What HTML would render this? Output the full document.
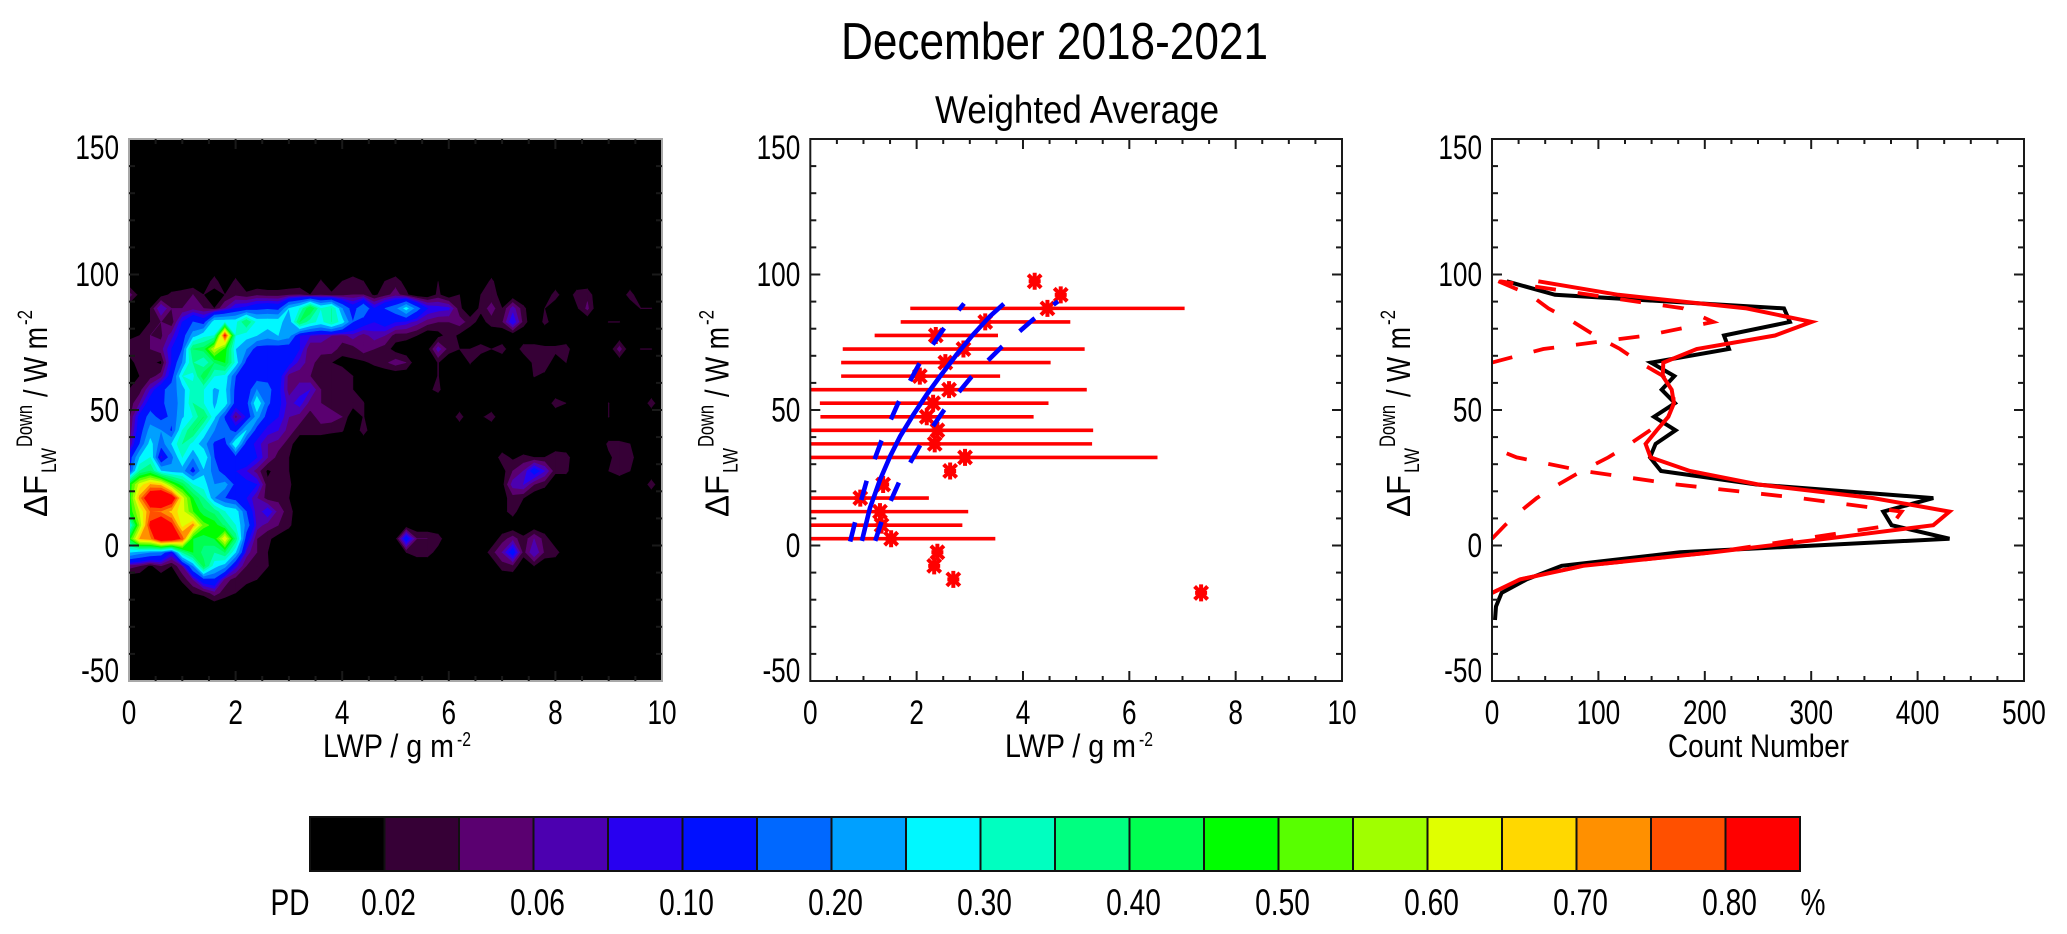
<!DOCTYPE html>
<html lang="en">
<head>
<meta charset="utf-8">
<title>December 2018-2021</title>
<style>
html,body{margin:0;padding:0;background:#fff;}
svg{display:block;}
text{font-family:"Liberation Sans",sans-serif;fill:#000;}
</style>
</head>
<body>
<svg id="fig" xmlns="http://www.w3.org/2000/svg" width="2067" height="934" viewBox="0 0 2067 934">
<rect x="0" y="0" width="2067" height="934" fill="#fff"/>
<text x="841" y="59" font-size="52" textLength="427" lengthAdjust="spacingAndGlyphs">December 2018-2021</text>
<text x="935" y="123" font-size="39" textLength="284" lengthAdjust="spacingAndGlyphs">Weighted Average</text>
<g id="p1"></g>
<g id="p2"></g>
<g id="p3"></g>
<g id="cb"></g>
</svg>
<script>
// ---- shared axes data
const yTicks = [-50, 0, 50, 100, 150];
const lwpTicks = [0, 2, 4, 6, 8, 10];
const countTicks = [0, 100, 200, 300, 400, 500];

// ---- colour bar
const pdLevels = [.02,.04,.06,.08,.10,.15,.20,.25,.30,.35,.40,.45,.50,.55,.60,.65,.70,.75,.80];
const pdColors = ['#000000','#360036','#5a0070','#4c00b0','#2800f0','#0010ff','#0068ff','#00a0ff','#00f8ff','#00ffc0','#00ff80','#00ff50','#00ff00','#58ff00','#a0ff00','#e0ff00','#ffd800','#ff9000','#ff5000','#ff0000'];
const pdLabels = ['0.02','0.06','0.10','0.20','0.30','0.40','0.50','0.60','0.70','0.80'];

// ---- heatmap (PD %): columns LWP = 0, 0.2 ... 10; rows listed by pdRowY
const pdColStep = 0.2;
const pdRowY = [-22.5,-17.5,-12.5,-7.5,-2.5,2.5,7.5,12.5,17.5,22.5,27.5,32.5,37.5,42.5,47.5,52.5,57.5,62.5,67.5,72.5,77.5,82.5,87.5,92.5,97.5,102.5];
const pdRows = [
[],
[0,0,0,0,0, 0,.02,.025,.05,.03, .02],
[0,0,0,0,0, .025,.06,.13,.14,.05, .03,.03,.02],
[.05,.04,.015,.04,.02, .06,.2,.42,.27,.22, .09,.04,.035,.022,0, 0,0,0,0,0, 0,0,0,0,0, 0,0,0,0,0, 0,0,0,0,0, .03,.035,0,.02,0],
[.25,.22,.2,.18,.1, .35,.45,.38,.35,.4, .25,.07,.04,.02,0, 0,0,0,0,0, 0,0,0,0,0, 0,.02,.03,.03,.01, 0,0,0,0,.03, .06,.12,.03,.08,.035, .03,0,0,0,0],
[.45,.7,.73,.9,.88, .78,.45,.42,.45,.65, .38,.12,.04,.025,.01, 0,0,0,0,0, 0,0,0,0,0, .01,.12,.04,.04,.03, 0,0,0,0,0, .03,.05,.025,.06,.03, 0,0,0,0,.02],
[.25,.55,.82,.9,.82, .62,.72,.52,.48,.38, .3,.18,.07,.05,.04, .025],
[.45,.6,.75,.74,.68, .62,.5,.42,.38,.3, .28,.15,.06,.1,.05, .03,0,0,0,0, 0,0,0,0,0, 0,0,0,0,0, 0,0,0,0,0, .01,.03],
[.45,.72,.9,.95,.88, .62,.45,.35,.2,.15, .12,.1,.06,.03,.035, .02,0,0,0,0, 0,0,0,0,0, 0,0,0,0,0, 0,0,0,0,0, .01,.03,.02],
[.45,.62,.7,.68,.52, .42,.3,.27,.2,.22, .13,.11,.1,.025,.03, .025,0,0,0,0, 0,0,0,0,0, 0,0,0,0,0, 0,0,0,0,0, .01,.07,.08,.04,.025, 0,0,0,0,0, 0,0,0,0,.03],
[.12,.35,.4,.25,.22, .22,.12,.24,.18,.11, .1,.08,.05,.015,.03, .02,0,0,0,0, 0,0,0,0,0, 0,0,0,0,0, 0,0,0,0,0, .01,.04,.06,.12,.08, .025,.025,0,0,0, .02,.03,.02],
[.11,.25,.3,.08,.18, .3,.2,.3,.15,.11, .12,.14,.1,.06,.03, .02,0,0,0,0, 0,0,0,0,0, 0,0,0,0,0, 0,0,0,0,0, .03,.015,.025,.02,.02, .035,.03,0,0,0, .015,.03,.03],
[.05,.15,.27,.17,.25, .35,.28,.22,.14,.12, .3,.12,.09,.06,.05, .03,0,0,0,0, 0,0,0,0,0, 0,0,0,0,0, 0,0,0,0,0, 0,0,0,0,0, 0,0,0,0,0, .025,.025,.02],
[.04,.12,.22,.2,.14, .3,.4,.28,.2,.18, .12,.25,.12,.09,.08, .05,.03,.03,.03,.025, .022,0,.03],
[.03,.11,.17,.13,.16, .24,.3,.4,.26,.14, .05,.1,.22,.12,.1, .06,.05,.03,.05,.05, .04,0,.021,0,0, 0,0,0,0,0, 0,.03,0,.015,.03, 0,0,0,0,0, 0,0,0,0,0, .0205],
[.025,.06,.12,.14,.17, .22,.35,.3,.24,.28, .12,.12,.3,.16,.11, .07,.09,.05,.04,.03, .03,.03,.021,0,0, 0,0,0,0,0, 0,0,0,0,0, 0,0,0,0,0, .03,.02,0,0,0, .0205,0,0,0,.03],
[.02,.03,.08,.13,.18, .22,.33,.3,.24,.26, .13,.11,.2,.17,.11, .05,.07,.08,.04,.03, .02,.02,.01,0,0, 0,0,0,.015,.025],
[.01,.02,.03,.05,.12, .3,.28,.44,.3,.28, .15,.12,.12,.13,.12, .05,.05,.04,.03,.03, .04,.02,0,0,0, 0,0,0,0,.021, 0,0,0,0,0, 0,0,0,.021,.015],
[.01,.03,.025,.015,.1, .2,.35,.3,.4,.45, .28,.13,.1,.11,.12, .11,.07,.05,.025,.02, .01,.015,.015,.025,.035, .05,.04,0,0,.021, 0,0,.022,0,0, 0,0,0,.025,.03, .01,.02],
[.03,.035,.04,.05,.1, .15,.4,.42,.6,.48, .25,.2,.12,.12,.11, .11,.1,.04,.05,.05, .03,.03,.05,.04,.03, .01,0,0,.01,.07, .03,.02,.02,.03,.02, .03,0,.03,.03,.025, .025,.03,0,0,0, 0,.05,0,.0205,.0205],
[.015,.02,.04,.035,.07, .12,.22,.28,.3,.82, .3,.27,.25,.22,.25, .22,.1,.08,.07,.06, .05,.07,.05,.07,.06, .03,.03,.02,0,.01, .03,.015],
[0,.01,.02,.04,.025, .1,.15,.12,.28,.28, .28,.4,.28,.28,.28, .2,.4,.32,.28,.35, .27,.15,.12,.1,.12, .1,.09,.07,.05,.04, .04,.05,.03,.01,.03, .035,.1,.03,0,.025, .01,0,0,0,0, .0205,.0205],
[0,0,.02,.08,.04, .04,.05,.04,.02,.06, .1,.11,.13,.14,.13, .25,.3,.45,.3,.35, .2,.12,.2,.1,.15, .18,.27,.17,.1,.09, .085,.025,0,.025,.05, .02,.07,.025,0,.02, 0,0,.015,.045,0, 0,0,0,.0205,.0205],
[.05,.01,0,.01,.025, .03,.04,.02,.01,.02, .035,.025,.035,.03,.03, .035,.04,.02,.035,.025, .03,.04,.04,.015,.03, .05,.025,0,0,.025, 0,.02,0,.02,.025, .015,0,0,0,0, .03,0,.03,.035,0, 0,0,.03],
[0,0,0,0,0, 0,0,0,.03,0, .025,0,0,0,0, 0,0,0,.022,0, .02,.03,.02,0,.02, .03,.01,0,0,.02, 0,0,0,0,.025],
[]
];

// ---- middle panel: binned means, spreads and fits
const starX = [7.35,2.69,2.33,2.39,1.52,1.34,1.31,.94,1.37,2.63,2.91,2.34,2.39,2.19,2.31,2.61,2.06,2.54,2.88,2.36,3.29,4.46,4.71,4.22];
const starY = [-17.5,-12.5,-7.5,-2.5,2.5,7.5,12.5,17.5,22.5,27.5,32.5,37.5,42.5,47.5,52.5,57.5,62.5,67.5,72.5,77.5,82.5,87.5,92.5,97.5];
const spreadY = [2.5,7.5,12.5,17.5,32.5,37.5,42.5,47.5,52.5,57.5,62.5,67.5,72.5,77.5,82.5,87.5];
const spreadLow = [0,0,0,0,0,0,0,.19,.18,0,.58,.58,.61,1.21,1.70,1.88];
const spreadHigh = [3.48,2.86,2.97,2.23,6.53,5.30,5.32,4.20,4.48,5.20,3.57,4.52,5.16,3.53,4.89,7.04];
const fitX = [.97,1.12,1.31,1.50,1.69,1.94,2.19,2.44,2.75,3.06,3.38,3.64];
const fitY = [1.7,13.8,24.2,32.9,40.3,48.3,55.7,62.4,70.4,77.8,84.6,89.2];
const fitLowX = [.75,.84,1.06,1.34,1.66,2.04,2.50,2.89];
const fitLowY = [1.45,8.5,23.9,38.7,52.9,66.7,79.7,89.3];
const fitHighX = [1.22,1.34,1.67,2.07,2.52,3.03,3.60,4.19,4.66];
const fitHighY = [1.7,8.8,23.4,37.2,50.1,62.2,73.3,83.4,90.1];

// ---- right panel: histogram and fitted components
const blackBinY = [97.5,92.5,87.5,82.5,77.5,72.5,67.5,62.5,57.5,52.5,47.5,42.5,37.5,32.5,27.5,22.5,17.5,12.5,7.5,2.5,-2.5,-7.5,-12.5,-17.5,-22.5,-27.5];
const blackCounts = [13.8,59.2,274.4,280,218,222.7,149.4,171.4,159.5,172,152.3,172.6,153.8,148.5,158.8,248.7,414.8,367.8,375.6,430,176.7,65.5,32.5,9,3.8,2.8];
const redBinY = [97.5,92.5,87.5,82.5,77.5,72.5,67.5,62.5,57.5,52.5,47.5,42.5,37.5,32.5,27.5,22.5,17.5,12.5,7.5,2.5,-2.5,-7.5,-12.5,-17.5];
const redCounts = [43.5,118.7,239.3,300.4,266,192.4,161,160.4,168.9,171,165.7,154.8,144.4,149.1,186,250.3,358.4,430,414.8,314.5,208,85.8,26.3,0];
const compABinY = [67.5,72.5,77.5,82.5,87.5,92.5,97.5];
const compACounts = [0,48.2,145.4,208,179.8,92.1,7.5];
const compBBinY = [97.5,92.5,87.5,82.5,77.5,72.5,67.5,62.5,57.5,52.5,47.5,42.5,37.5,32.5,27.5,22.5,17.5,12.5,7.5,2.5];
const compBCounts = [5.9,35.7,53,76.4,96.8,120.3,139,161,170,171,165.7,148.5,129.7,109.3,84.3,62.3,42,26.3,12.2,0];
const compCBinY = [34,32.5,27.5,22.5,17.5,12.5,7.5,2.5,-2.5,-7.5,-12.5,-17.5];
const compCCounts = [13.8,23.2,85.8,173.6,289.5,385,375.6,292.6,208,85.8,26.3,0];

// ---- helpers
const NS = 'http://www.w3.org/2000/svg';
function mk(parent, tag, attrs) {
  const el = document.createElementNS(NS, tag);
  for (const k in attrs) el.setAttribute(k, attrs[k]);
  parent.appendChild(el);
  return el;
}
const yPx = v => 545.5 - 2.71 * v;
const PLOT_TOP = yPx(150), PLOT_BOTTOM = yPx(-50);
const panel1 = {x0: 129, x1: 662, max: 10};
const panel2 = {x0: 810.3, x1: 1342, max: 10};
const panel3 = {x0: 1492, x1: 2024, max: 500};
const xPx = (p, v) => p.x0 + (p.x1 - p.x0) * v / p.max;

function putText(parent, name, str, x, y, size, sx, anchor) {
  const t = mk(parent, 'text', {transform: `translate(${x},${y}) scale(${sx},1)`, 'font-size': size, 'text-anchor': anchor});
  t.textContent = str;
  
  
  return t;
}
function fitted(parent, name, str, x, y, size, len, rotate) {
  const t = mk(parent, 'text', {transform: `translate(${x},${y})` + (rotate ? ' rotate(-90)' : ''), 'font-size': size, textLength: len, lengthAdjust: 'spacingAndGlyphs'});
  t.textContent = str;
  
  
  return t;
}
function tick(parent, name, x1, y1, x2, y2) {
  const l = mk(parent, 'line', {x1, y1, x2, y2, stroke: '#1a1a1a', 'stroke-width': 2});
  
  
}
function drawAxes(g, p, xMajor, xMinorPerMajor, boxColor) {
  const box = mk(g, 'rect', {x: p.x0, y: PLOT_TOP, width: p.x1 - p.x0, height: PLOT_BOTTOM - PLOT_TOP, fill: 'none', stroke: boxColor, 'stroke-width': 2});
  
  
  for (let v = -50; v <= 150; v += 10) {
    const major = v % 50 === 0;
    const len = major ? 10 : 6;
    if (v === -50 || v === 150) continue;
    tick(g, major ? 'y-major-tick' : 'y-minor-tick', p.x0, yPx(v), p.x0 + len, yPx(v));
    tick(g, major ? 'y-major-tick' : 'y-minor-tick', p.x1, yPx(v), p.x1 - len, yPx(v));
  }
  const step = xMajor[1] - xMajor[0];
  const minor = step / xMinorPerMajor;
  for (let k = 1; k * minor < p.max - 1e-6; k++) {
    const v = k * minor;
    const major = k % xMinorPerMajor === 0;
    const len = major ? 10 : 5;
    tick(g, major ? 'x-major-tick' : 'x-minor-tick', xPx(p, v), PLOT_BOTTOM, xPx(p, v), PLOT_BOTTOM - len);
    tick(g, major ? 'x-major-tick' : 'x-minor-tick', xPx(p, v), PLOT_TOP, xPx(p, v), PLOT_TOP + len);
  }
  yTicks.forEach(v => {
    let base = yPx(v) + 11.7;
    if (v === 150) base = yPx(v) + 20;
    if (v === -50) base = yPx(v) + 1;
    putText(g, 'y-tick-label', String(v), p.x0 - 10, base, 34, 0.77, 'end');
  });
  xMajor.forEach(v => {
    putText(g, 'x-tick-label', String(v), xPx(p, v), 724, 34, 0.77, 'middle');
  });
}
function yTitle(g, bx) {
  fitted(g, 'y-title-delta-f', 'ΔF', bx, 517, 33, 42, true);
  fitted(g, 'y-title-subscript', 'LW', bx + 9, 473, 21, 25, true);
  fitted(g, 'y-title-superscript', 'Down', bx - 15, 447, 22, 42, true);
  fitted(g, 'y-title-units', '/ W m', bx, 397, 33, 70, true);
  fitted(g, 'y-title-exponent', '-2', bx - 15, 325, 21, 15, true);
}
function lwpTitle(g, x0) {
  fitted(g, 'x-title', 'LWP / g m', x0, 757, 32, 131, false);
  fitted(g, 'x-title-exponent', '-2', x0 + 134, 746, 20, 14, false);
}
function polyline(g, name, xs, ys, p, color, width, dash) {
  const pts = xs.map((x, i) => xPx(p, x).toFixed(1) + ',' + yPx(ys[i]).toFixed(1)).join(' ');
  const l = mk(g, 'polyline', {points: pts, fill: 'none', stroke: color, 'stroke-width': width, 'stroke-linejoin': 'miter'});
  if (dash) l.setAttribute('stroke-dasharray', dash);
  
  
}

// ---- panel 1: filled contours from the grid
(function () {
  const g = document.getElementById('p1');
  const bg = mk(g, 'rect', {x: panel1.x0, y: PLOT_TOP, width: panel1.x1 - panel1.x0, height: PLOT_BOTTOM - PLOT_TOP, fill: pdColors[0]});
  
  
  const nCols = Math.round(panel1.max / pdColStep) + 1;
  const val = (i, j) => pdRows[j][i] || 0;
  const colPx = i => xPx(panel1, i * pdColStep);
  pdLevels.forEach((lev, k) => {
    let d = '';
    for (let j = 0; j < pdRows.length - 1; j++) {
      for (let i = 0; i < nCols - 1; i++) {
        const c = [[i, j], [i + 1, j], [i + 1, j + 1], [i, j + 1]];
        const v = c.map(q => val(q[0], q[1]));
        if (Math.max(...v) < lev) continue;
        const poly = [];
        for (let n = 0; n < 4; n++) {
          const m = (n + 1) % 4;
          const ax = colPx(c[n][0]), ay = yPx(pdRowY[c[n][1]]);
          const bx = colPx(c[m][0]), by = yPx(pdRowY[c[m][1]]);
          if (v[n] >= lev) poly.push([ax, ay]);
          if ((v[n] >= lev) !== (v[m] >= lev)) {
            const t = (lev - v[n]) / (v[m] - v[n]);
            poly.push([ax + (bx - ax) * t, ay + (by - ay) * t]);
          }
        }
        d += 'M' + poly.map(q => q[0].toFixed(1) + ' ' + q[1].toFixed(1)).join('L') + 'Z';
      }
    }
    const path = mk(g, 'path', {d, fill: pdColors[k + 1], stroke: pdColors[k + 1], 'stroke-width': 0.6});
    
    
  });
  drawAxes(g, panel1, lwpTicks, 4, '#a8a8a8');
  yTitle(g, panel1.x0 - 82);
  lwpTitle(g, 323);
})();

// ---- panel 2
(function () {
  const g = document.getElementById('p2');
  spreadY.forEach((y, i) => {
    const l = mk(g, 'line', {x1: xPx(panel2, spreadLow[i]), x2: xPx(panel2, spreadHigh[i]), y1: yPx(y), y2: yPx(y), stroke: '#ff0000', 'stroke-width': 3.6});
    
    
  });
  starX.forEach((x, i) => {
    const cx = xPx(panel2, x), cy = yPx(starY[i]);
    const s = mk(g, 'path', {d: `M${cx - 6.5} ${cy - 6.5}L${cx + 6.5} ${cy + 6.5}M${cx - 6.5} ${cy + 6.5}L${cx + 6.5} ${cy - 6.5}M${cx} ${cy - 8.5}L${cx} ${cy + 8.5}M${cx - 6} ${cy}L${cx + 6} ${cy}`, stroke: '#ff0000', 'stroke-width': 4, fill: 'none'});
    
    
  });
  polyline(g, 'fit-lower-bound', fitLowX, fitLowY, panel2, '#0000ff', 4.6, '20 23');
  polyline(g, 'fit-upper-bound', fitHighX, fitHighY, panel2, '#0000ff', 4.6, '20 23');
  polyline(g, 'fit-curve', fitX, fitY, panel2, '#0000ff', 4.6);
  drawAxes(g, panel2, lwpTicks, 4, '#1a1a1a');
  yTitle(g, panel2.x0 - 82);
  lwpTitle(g, 1005);
})();

// ---- panel 3
(function () {
  const g = document.getElementById('p3');
  polyline(g, 'count-histogram', blackCounts, blackBinY, panel3, '#000000', 4);
  polyline(g, 'fit-component-upper', compACounts, compABinY, panel3, '#ff0000', 3.8, '21 22');
  polyline(g, 'fit-component-middle', compBCounts, compBBinY, panel3, '#ff0000', 3.8, '21 22');
  polyline(g, 'fit-component-lower', compCCounts, compCBinY, panel3, '#ff0000', 3.8, '21 22');
  polyline(g, 'fit-total', redCounts, redBinY, panel3, '#ff0000', 4);
  drawAxes(g, panel3, countTicks, 4, '#1a1a1a');
  yTitle(g, panel3.x0 - 82);
  fitted(g, 'x-title', 'Count Number', 1668, 757, 32, 181, false);
})();

// ---- colour bar
(function () {
  const g = document.getElementById('cb');
  const x0 = 310, cell = 74.5, top = 817, h = 54;
  pdColors.forEach((c, i) => {
    const r = mk(g, 'rect', {x: x0 + i * cell, y: top, width: cell, height: h, fill: c, stroke: '#111', 'stroke-width': 2});
    
    
  });
  pdLabels.forEach((s, i) => {
    putText(g, 'colorbar-label', s, x0 + cell * (1 + 2 * i) + 4, 915, 37, 0.76, 'middle');
  });
  putText(g, 'colorbar-title', 'PD', 290, 915, 37, 0.76, 'middle');
  putText(g, 'colorbar-unit', '%', 1813, 915, 37, 0.76, 'middle');
})();
</script>
</body>
</html>
